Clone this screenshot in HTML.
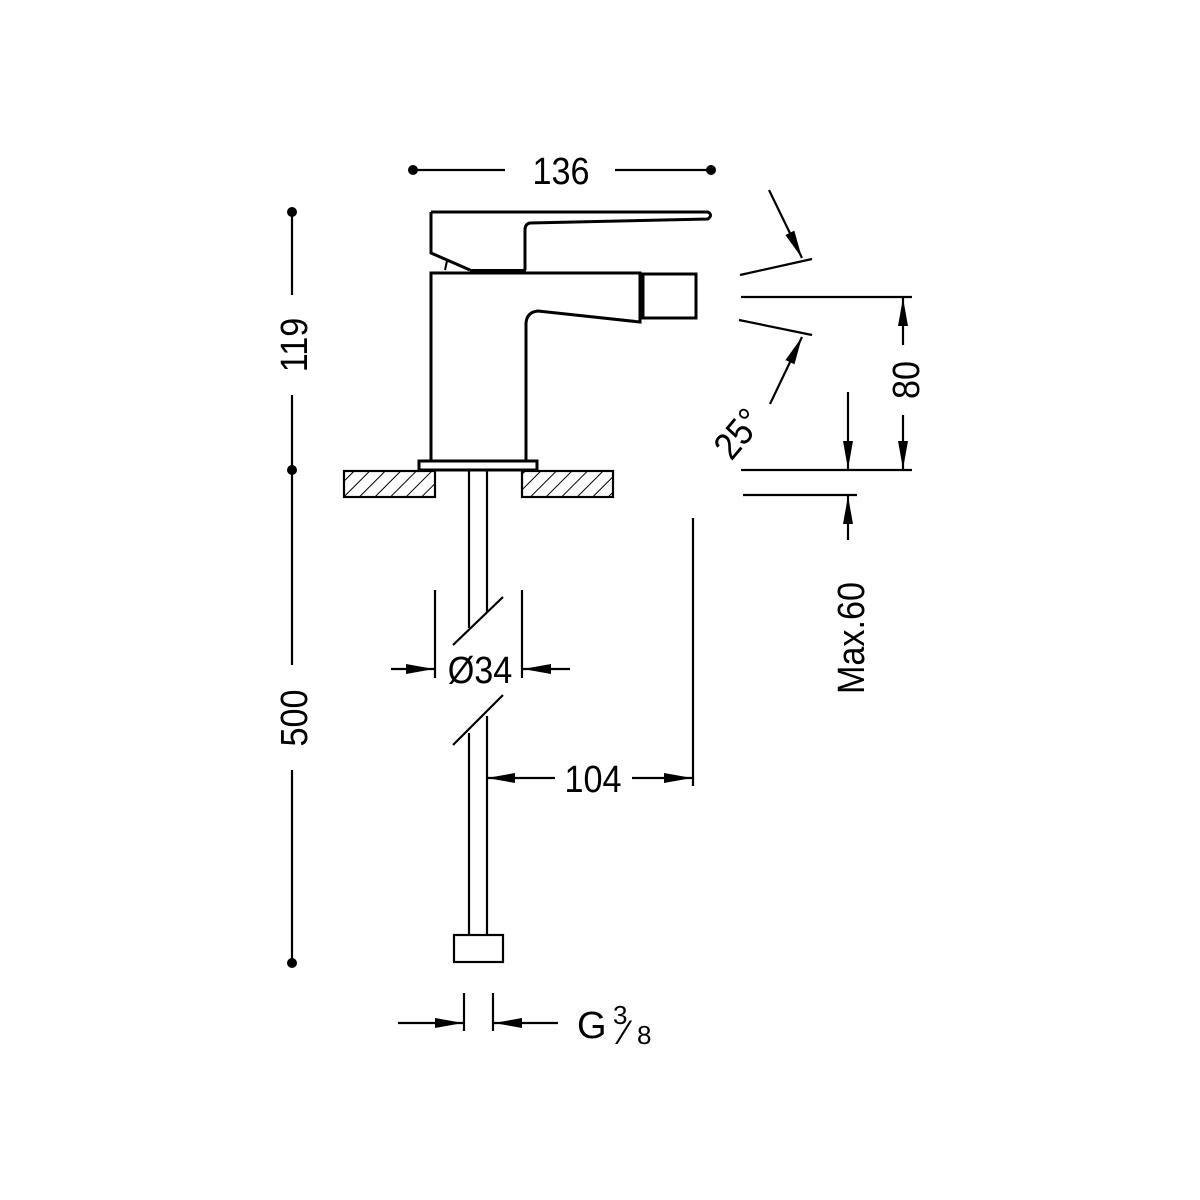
<!DOCTYPE html>
<html><head><meta charset="utf-8"><style>body{margin:0;background:#fff}svg{display:block}text{font-family:"Liberation Sans Narrow","Liberation Sans",sans-serif;fill:#000}</style></head>
<body>
<svg width="1200" height="1200" viewBox="0 0 1200 1200" xmlns="http://www.w3.org/2000/svg">
<defs>
<marker id="b" viewBox="0 0 10 10" refX="10" refY="5" markerWidth="28" markerHeight="10" markerUnits="userSpaceOnUse" orient="auto" preserveAspectRatio="none"><path d="M0,0 L10,5 L0,10z" fill="#000"/></marker>
<pattern id="h" width="11" height="11" patternUnits="userSpaceOnUse" patternTransform="rotate(45)"><line x1="0" y1="0" x2="0" y2="11" stroke="#000" stroke-width="2"/></pattern>
</defs>
<g stroke="#000" fill="none" stroke-width="2.2">
<line x1="413" y1="170" x2="505" y2="170"/><line x1="615" y1="170" x2="711" y2="170"/>
<line x1="292" y1="212" x2="292" y2="295"/><line x1="292" y1="395" x2="292" y2="470"/>
<line x1="292" y1="470" x2="292" y2="665"/><line x1="292" y1="770" x2="292" y2="963"/>
<path d="M431,212 L708,212 Q713,215 708,219 L530,223 Q525,224 525,230 L525,270" stroke-width="3"/>
<path d="M431,212 L431,253 L470,270" stroke-width="3"/>
<path d="M445,270 L447,261" stroke-width="2"/>
<path d="M431,460 L431,273 L640,273 L640,322 L538,311 Q527,312 526,323 L526,460" stroke-width="3"/>
<line x1="470" y1="271" x2="526" y2="271" stroke-width="4"/>
<rect x="643" y="274" width="53" height="44" stroke-width="3"/>
<rect x="419" y="461" width="118" height="9" stroke-width="3"/>
<rect x="344" y="471" width="91" height="26" fill="url(#h)"/>
<rect x="522" y="471" width="91" height="26" fill="url(#h)"/>
<line x1="469" y1="470" x2="469" y2="628"/><line x1="487" y1="470" x2="487" y2="612"/>
<line x1="469" y1="733" x2="469" y2="935"/><line x1="487" y1="716" x2="487" y2="935"/>
<line x1="453" y1="645" x2="503" y2="597"/><line x1="453" y1="745" x2="503" y2="695"/>
<rect x="454" y="935" width="49" height="27"/>
<line x1="435" y1="590" x2="435" y2="678"/><line x1="522" y1="590" x2="522" y2="678"/>
<line x1="391" y1="669" x2="434" y2="669" marker-end="url(#b)"/>
<line x1="570" y1="669" x2="523" y2="669" marker-end="url(#b)"/>
<line x1="555" y1="778" x2="487" y2="778" marker-end="url(#b)"/>
<line x1="632" y1="778" x2="692" y2="778" marker-end="url(#b)"/>
<line x1="693" y1="518" x2="693" y2="786"/>
<line x1="464" y1="993" x2="464" y2="1031"/><line x1="493" y1="993" x2="493" y2="1031"/>
<line x1="398" y1="1023" x2="463" y2="1023" marker-end="url(#b)"/>
<line x1="558" y1="1023" x2="494" y2="1023" marker-end="url(#b)"/>
<line x1="769" y1="190" x2="802" y2="258" marker-end="url(#b)"/>
<line x1="740" y1="275" x2="812" y2="259"/>
<line x1="741" y1="297" x2="912" y2="297"/>
<line x1="739" y1="320" x2="812" y2="335"/>
<line x1="770" y1="404" x2="802" y2="337" marker-end="url(#b)"/>
<line x1="903" y1="345" x2="903" y2="298" marker-end="url(#b)"/>
<line x1="903" y1="415" x2="903" y2="469" marker-end="url(#b)"/>
<line x1="741" y1="470" x2="912" y2="470"/>
<line x1="848" y1="392" x2="848" y2="469" marker-end="url(#b)"/>
<line x1="743" y1="495" x2="857" y2="495"/>
<line x1="848" y1="540" x2="848" y2="496" marker-end="url(#b)"/>
</g>
<g fill="#000">
<circle cx="413" cy="170" r="5"/><circle cx="711" cy="170" r="5"/>
<circle cx="292" cy="212" r="5"/><circle cx="292" cy="470" r="5"/><circle cx="292" cy="963" r="5"/>
</g>
<g font-size="38">
<text transform="translate(561,184) scale(0.9,1)" text-anchor="middle">136</text>
<text transform="translate(307,345) rotate(-90) scale(0.9,1)" text-anchor="middle">119</text>
<text transform="translate(307,718) rotate(-90) scale(0.9,1)" text-anchor="middle">500</text>
<text transform="translate(480,683) scale(0.9,1)" text-anchor="middle">Ø34</text>
<text transform="translate(593,792) scale(0.9,1)" text-anchor="middle">104</text>
<text x="577" y="1038">G</text>
<text x="613" y="1024" font-size="26">3</text>
<text x="622" y="1044" font-size="34">⁄</text>
<text x="637" y="1044" font-size="26">8</text>
<text transform="translate(748,442) rotate(-50) scale(0.9,1)" text-anchor="middle">25°</text>
<text transform="translate(919,380) rotate(-90) scale(0.9,1)" text-anchor="middle">80</text>
<text transform="translate(864,638) rotate(-90) scale(0.9,1)" text-anchor="middle">Max.60</text>
</g>
</svg>
</body></html>
